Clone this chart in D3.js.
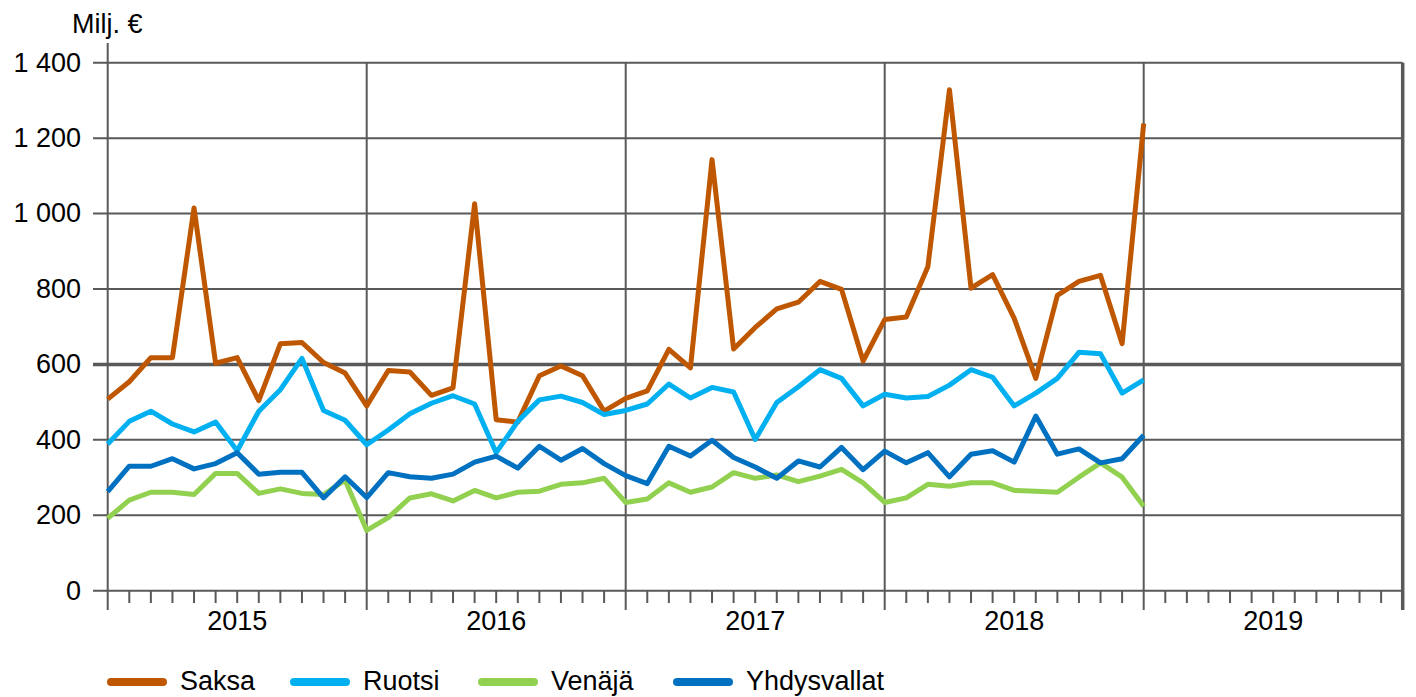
<!DOCTYPE html>
<html>
<head>
<meta charset="utf-8">
<script src="https://cdn.jsdelivr.net/npm/d3@7"></script>
<style>
  body { margin: 0; background: #fff; }
  svg { display: block; font-family: "Liberation Sans", Arial, sans-serif; }
</style>
</head>
<body>
<svg id="chart" width="1416" height="697"></svg>
<script>
// monthly values, Jan 2015 .. Jan 2019 (49 points)
var saksa = [508, 554, 618, 618, 1015, 603, 618, 504, 655, 658, 605, 577,
             490, 584, 580, 518, 538, 1026, 453, 447, 570, 596, 570, 476,
             510, 530, 640, 591, 1143, 641, 698, 747, 765, 820, 799, 609,
             719, 726, 859, 1328, 802, 838, 722, 563, 783, 820, 836, 655,
             1239];
var ruotsi = [389, 449, 476, 442, 421, 447, 371, 476, 533, 616, 478, 452,
              387, 426, 469, 497, 517, 495, 366, 449, 506, 516, 499, 467,
              478, 495, 548, 511, 539, 527, 401, 499, 541, 586, 563, 490,
              521, 511, 515, 545, 586, 566, 490, 524, 563, 632, 628, 524,
              559];
var venaja = [192, 240, 261, 261, 255, 311, 311, 258, 270, 258, 255, 293,
              160, 194, 246, 257, 238, 266, 246, 261, 264, 282, 286, 298,
              234, 243, 286, 261, 275, 313, 298, 307, 289, 304, 322, 286,
              234, 246, 282, 277, 286, 286, 266, 264, 261, 301, 339, 301,
              224];
var yhdysvallat = [263, 330, 330, 350, 323, 337, 366, 309, 314, 314, 246, 302,
                   247, 313, 302, 298, 309, 341, 357, 325, 383, 346, 377, 337,
                   305, 284, 383, 357, 399, 353, 328, 298, 344, 328, 380, 321,
                   370, 339, 366, 302, 362, 371, 341, 463, 362, 376, 339, 350,
                   412];
var years = ["2015", "2016", "2017", "2018", "2019"];
var yTicks = [0, 200, 400, 600, 800, 1000, 1200, 1400];

var series = [
  {name: "Saksa", values: saksa, color: "#bf5700"},
  {name: "Ruotsi", values: ruotsi, color: "#00b0f0"},
  {name: "Venäjä", values: venaja, color: "#92d050"},
  {name: "Yhdysvallat", values: yhdysvallat, color: "#0070c0"}
];

var svg = d3.select("#chart");
var grid = "#595959";

var x = d3.scaleLinear().domain([0, years.length * 12]).range([107.7, 1402.7]);
var y = d3.scaleLinear().domain([0, 1400]).range([590.7, 62.7]);

// horizontal grid lines
svg.append("g").selectAll("line")
  .data(yTicks.filter(function(d) { return d > 0; }))
  .enter().append("line")
  .attr("x1", 93).attr("x2", x.range()[1])
  .attr("y1", function(d) { return y(d); })
  .attr("y2", function(d) { return y(d); })
  .attr("stroke", grid)
  .attr("stroke-width", function(d) { return d == 600 ? 3.5 : 2; });

// vertical year lines
svg.append("g").selectAll("line")
  .data(d3.range(1, years.length + 1))
  .enter().append("line")
  .attr("x1", function(d) { return x(d * 12); })
  .attr("x2", function(d) { return x(d * 12); })
  .attr("y1", y(1400)).attr("y2", 610)
  .attr("stroke", grid)
  .attr("stroke-width", function(d) { return d == years.length ? 3.5 : 2; });

// left axis line
svg.append("line")
  .attr("x1", x(0)).attr("x2", x(0))
  .attr("y1", 43).attr("y2", 610)
  .attr("stroke", grid).attr("stroke-width", 2);

// x axis with month ticks
svg.append("line")
  .attr("x1", 93).attr("x2", x.range()[1])
  .attr("y1", y(0)).attr("y2", y(0))
  .attr("stroke", grid).attr("stroke-width", 2);

svg.append("g").selectAll("line")
  .data(d3.range(1, years.length * 12).filter(function(d) { return d % 12 != 0; }))
  .enter().append("line")
  .attr("x1", function(d) { return x(d); })
  .attr("x2", function(d) { return x(d); })
  .attr("y1", y(0)).attr("y2", 603)
  .attr("stroke", grid).attr("stroke-width", 2);

// y labels
svg.append("g").selectAll("text")
  .data(yTicks)
  .enter().append("text")
  .attr("x", 81)
  .attr("y", function(d) { return y(d); })
  .attr("dy", "0.33em")
  .attr("text-anchor", "end")
  .attr("font-size", 27)
  .text(function(d) { return d3.format(",")(d).replace(",", " "); });

svg.append("text")
  .attr("x", 72).attr("y", 33)
  .attr("font-size", 27)
  .text("Milj. €");

// year labels
svg.append("g").selectAll("text")
  .data(years)
  .enter().append("text")
  .attr("x", function(d, i) { return x(i * 12 + 6); })
  .attr("y", 630)
  .attr("text-anchor", "middle")
  .attr("font-size", 27)
  .text(function(d) { return d; });

// series lines
var line = d3.line()
  .x(function(d, i) { return x(i); })
  .y(function(d) { return y(d); });

svg.append("g").selectAll("path")
  .data(series)
  .enter().append("path")
  .attr("d", function(d) { return line(d.values); })
  .attr("fill", "none")
  .attr("stroke", function(d) { return d.color; })
  .attr("stroke-width", 5)
  .attr("stroke-linejoin", "round");

// legend
var legX = [107, 290, 478, 673];
var leg = svg.append("g").selectAll("g")
  .data(series)
  .enter().append("g")
  .attr("transform", function(d, i) { return "translate(" + legX[i] + ",682)"; });

leg.append("line")
  .attr("x1", 4).attr("x2", 56)
  .attr("stroke", function(d) { return d.color; })
  .attr("stroke-width", 8)
  .attr("stroke-linecap", "round");

leg.append("text")
  .attr("x", 73).attr("y", 0)
  .attr("dy", "0.3em")
  .attr("font-size", 27)
  .text(function(d) { return d.name; });
</script>
</body>
</html>
